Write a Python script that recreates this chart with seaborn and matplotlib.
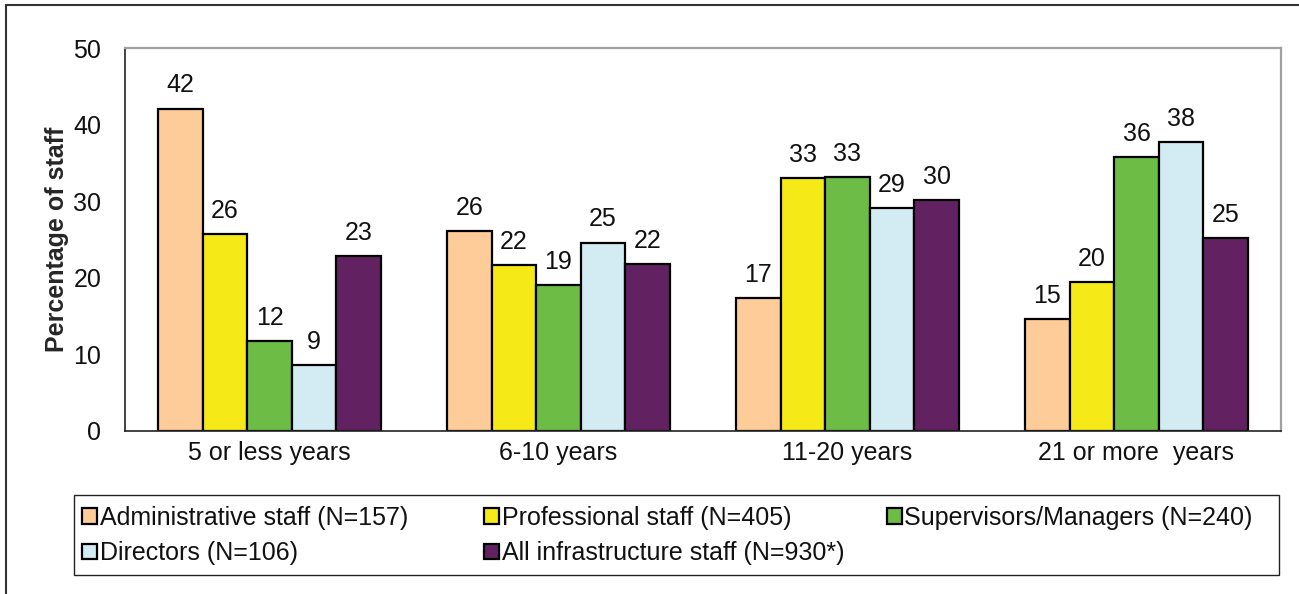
import matplotlib
matplotlib.use("Agg")
import matplotlib.pyplot as plt
from matplotlib.lines import Line2D
from matplotlib.patches import Rectangle
import seaborn as sns
import pandas as pd

categories = ["5 or less years", "6-10 years", "11-20 years", "21 or more  years"]
groups = ["Administrative staff (N=157)", "Professional staff (N=405)",
          "Supervisors/Managers (N=240)", "Directors (N=106)",
          "All infrastructure staff (N=930*)"]
admin = [42.1, 26.1, 17.3, 14.6]
professional = [25.7, 21.7, 33.0, 19.5]
supervisors = [11.7, 19.1, 33.2, 35.8]
directors = [8.6, 24.6, 29.1, 37.7]
all_staff = [22.8, 21.8, 30.2, 25.2]
colors = ["#FDCC99", "#F5EA17", "#6CBC46", "#D3EBF2", "#622262"]

series = [admin, professional, supervisors, directors, all_staff]
rows = []
for g, vals in zip(groups, series):
    for c, v in zip(categories, vals):
        rows.append({"period": c, "group": g, "value": v})
df = pd.DataFrame(rows)

sns.set_style("white")
plt.rcParams["font.family"] = ["Liberation Sans", "DejaVu Sans"]

FS = 18
W, H = 1299, 594
fig = plt.figure(figsize=(W / 100, H / 100), dpi=100)
ax = fig.add_axes([125 / W, 1 - 431 / H, (1281 - 125) / W, (431 - 48) / H])

sns.barplot(data=df, x="period", y="value", hue="group", order=categories,
            hue_order=groups, palette=colors, width=0.772, edgecolor="black",
            linewidth=1.6, saturation=1, ax=ax, errorbar=None)

for cont in ax.containers:
    vals = [b.get_height() for b in cont]
    ax.bar_label(cont, labels=[f"{int(v + 0.5):d}" for v in vals], padding=8,
                 fontsize=FS, color="#111111")

ax.set_ylim(0, 50)
ax.set_xlim(-0.5, 3.5)
ax.set_yticks([0, 10, 20, 30, 40, 50])
ax.set_xticks(range(len(categories)))
ax.set_xticklabels(categories)
ax.set_xticks([-0.5, 0.5, 1.5, 2.5, 3.5], minor=True)
ax.tick_params(axis="x", which="major", length=0, pad=7, labelsize=FS, colors="#111111")
ax.tick_params(axis="x", which="minor", length=6, width=1.2, direction="out", color="#222222")
ax.tick_params(axis="y", length=6, width=1.2, direction="out", pad=11, labelsize=FS,
               color="#222222", labelcolor="#111111")
ax.set_xlabel("")
ax.set_ylabel("Percentage of staff", fontsize=18, fontweight="bold", labelpad=3)

for s in ["left", "bottom"]:
    ax.spines[s].set_color("#222222")
    ax.spines[s].set_linewidth(1.2)
for s in ["top", "right"]:
    ax.spines[s].set_color("#A0A0A0")
    ax.spines[s].set_linewidth(1.6)
    ax.spines[s].set_visible(True)

handles, labels = ax.get_legend_handles_labels()
if ax.get_legend() is not None:
    ax.get_legend().remove()

# legend frame
fig.add_artist(Rectangle((74 / W, 1 - 575 / H), (1279 - 74) / W, (575 - 495) / H,
                         transform=fig.transFigure, fill=False, edgecolor="#222222",
                         linewidth=1.0))
cols = [[0, 3], [1, 4], [2]]
col_x = [82, 484, 887]
for idxs, x0 in zip(cols, col_x):
    fig.legend([handles[i] for i in idxs], [labels[i] for i in idxs],
               loc="upper left", bbox_to_anchor=(x0 / W, 1 - 506 / H),
               bbox_transform=fig.transFigure, frameon=False, fontsize=FS,
               handlelength=0.58, handleheight=0.58, handletextpad=0.12,
               labelspacing=0.45, borderpad=0, borderaxespad=0,
               labelcolor="#111111")

# outer border (left and top)
fig.add_artist(Line2D([6 / W, 6 / W], [0, 1 - 5 / H], transform=fig.transFigure,
                      color="#333333", linewidth=1.5))
fig.add_artist(Line2D([6 / W, 1], [1 - 5 / H, 1 - 5 / H], transform=fig.transFigure,
                      color="#333333", linewidth=1.5))

fig.savefig("out.png", dpi=100)
